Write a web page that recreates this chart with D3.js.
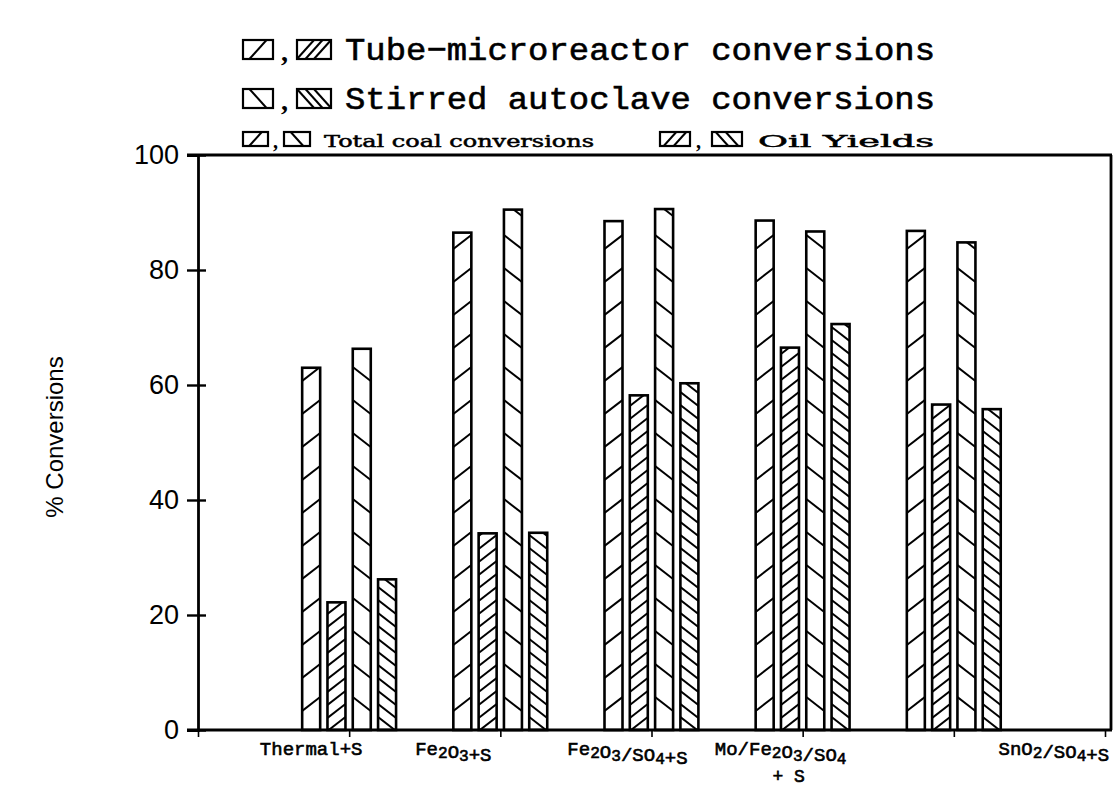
<!DOCTYPE html>
<html>
<head>
<meta charset="utf-8">
<script src="https://cdn.jsdelivr.net/npm/d3@7"></script>
<style>
  body { margin: 0; background: #fff; }
  svg { display: block; }
</style>
</head>
<body>
<svg id="chart" width="1118" height="790"></svg>
<script>
// data
var categories = ["Thermal+S", "Fe_2O_3+S", "Fe_2O_3/SO_4+S", "Mo/Fe_2O_3/SO_4\n+ S", "SnO_2/SO_4+S"];
var tubeTotal = [63.0, 86.5, 88.5, 88.6, 86.8];
var tubeOil   = [22.2, 34.2, 58.2, 66.5, 56.6];
var autoTotal = [66.3, 90.5, 90.6, 86.7, 84.8];
var autoOil   = [26.2, 34.3, 60.3, 70.6, 55.8];
var yTicks = [0, 20, 40, 60, 80, 100];

var series = [
  {values: tubeTotal, dir: 1, gap: 33},
  {values: tubeOil,   dir: 1, gap: 13},
  {values: autoTotal, dir: -1, gap: 33},
  {values: autoOil,   dir: -1, gap: 13}
];

var svg = d3.select("#chart");
var x = d3.scaleLinear().domain([0, 6]).range([198, 1105]);
var y = d3.scaleLinear().domain([0, 100]).range([730, 155]);
var barW = 18, barStep = 25.3, groupOff = -47;
var labelDx = [-38, -47, -24, -22, 100];
var mono = "Liberation Mono, Courier New, monospace";

var defs = svg.append("defs");

// frame
svg.append("line").attr("x1", 187).attr("x2", 1112).attr("y1", y(100)).attr("y2", y(100))
  .attr("stroke", "#000").attr("stroke-width", 2.8);
svg.append("line").attr("x1", 1111).attr("x2", 1111).attr("y1", y(100)).attr("y2", y(0))
  .attr("stroke", "#000").attr("stroke-width", 2.8);

// y axis
var gy = svg.append("g").attr("transform", "translate(198,0)")
  .call(d3.axisLeft(y).tickValues(yTicks).tickSize(11).tickPadding(8));
gy.select(".domain").attr("stroke-width", 2.8);
gy.selectAll(".tick line").attr("x1", 8).attr("stroke-width", 2.4);
gy.selectAll(".tick text").attr("font-family", "Liberation Sans, Arial, sans-serif")
  .attr("font-size", 27).attr("fill", "#000");

// x axis
var gx = svg.append("g").attr("transform", "translate(0," + y(0) + ")")
  .call(d3.axisBottom(x).tickValues([0, 1, 2, 3, 4, 5, 6]).tickSize(7).tickFormat(""));
gx.select(".domain").attr("d", "M187,0H1112").attr("stroke-width", 2.8);
gx.selectAll(".tick line").attr("stroke-width", 1.6);

// bars with hatching
series.forEach(function(s, j) {
  s.values.forEach(function(v, i) {
    var x0 = x(i + 1) + groupOff + j * barStep;
    var yt = y(v), yb = y(0);
    var id = "clip" + j + "_" + i;
    defs.append("clipPath").attr("id", id).append("rect")
      .attr("x", x0).attr("y", yt).attr("width", barW).attr("height", yb - yt);
    var g = svg.append("g").attr("clip-path", "url(#" + id + ")");
    var rise = 14;
    var lines = d3.range(yb + rise, yt - s.gap, -s.gap);
    g.selectAll("line").data(lines).enter().append("line")
      .attr("x1", x0).attr("x2", x0 + barW)
      .attr("y1", function(d) { return s.dir > 0 ? d : d - rise; })
      .attr("y2", function(d) { return s.dir > 0 ? d - rise : d; })
      .attr("stroke", "#000").attr("stroke-width", 2);
    svg.append("rect").attr("x", x0).attr("y", yt).attr("width", barW).attr("height", yb - yt)
      .attr("fill", "none").attr("stroke", "#000").attr("stroke-width", 2.6);
  });
});

// category labels with subscripts
function writeLabel(sel, str, fs) {
  str.split(/(_\d)/).forEach(function(part) {
    if (!part) return;
    if (part[0] === "_") {
      sel.append("tspan").attr("font-size", fs * 0.85).attr("dy", 3).text(part.slice(1));
      sel.append("tspan").attr("dy", -3).text("");
    } else {
      sel.append("tspan").text(part);
    }
  });
}
categories.forEach(function(c, i) {
  var lines = c.split("\n");
  var cx = x(i + 1) + labelDx[i];
  lines.forEach(function(ln, k) {
    var t = svg.append("text")
      .attr("x", k === 0 ? cx : cx + 8).attr("y", k === 0 ? 755 : 782)
      .attr("text-anchor", "middle")
      .attr("font-family", mono).attr("font-size", k === 0 ? 19 : 18)
      .attr("stroke", "#000").attr("stroke-width", 0.6).attr("fill", "#000");
    writeLabel(t, ln, 19);
  });
});

// y title
svg.append("text").attr("transform", "translate(63,437) rotate(-90)")
  .attr("text-anchor", "middle")
  .attr("font-family", "Liberation Sans, Arial, sans-serif").attr("font-size", 24)
  .text("% Conversions");

// legend
function swatch(x0, y0, w, h, n, dir) {
  svg.append("rect").attr("x", x0).attr("y", y0).attr("width", w).attr("height", h)
    .attr("fill", "none").attr("stroke", "#000").attr("stroke-width", 2.2);
  var step = w / (n + 1);
  for (var k = 0; k < n; k++) {
    var cx = x0 + step * (k + 1);
    var half = h * 0.45;
    svg.append("line")
      .attr("x1", cx - half * dir).attr("y1", y0 + h)
      .attr("x2", cx + half * dir).attr("y2", y0)
      .attr("stroke", "#000").attr("stroke-width", 2);
  }
}
function comma(cx, cy, fs) {
  svg.append("text").attr("x", cx).attr("y", cy).attr("font-family", "Liberation Serif, serif")
    .attr("font-size", fs).attr("font-weight", "bold").text(",");
}
swatch(243, 40, 30, 19, 1, 1);  comma(281, 61, 28);  swatch(297, 40, 34, 19, 3, 1);
swatch(243, 89, 30, 19, 1, -1); comma(281, 110, 28); swatch(297, 89, 34, 19, 3, -1);
svg.append("text").attr("x", 345).attr("y", 60).attr("textLength", 590).attr("lengthAdjust", "spacingAndGlyphs")
  .attr("font-family", mono).attr("font-size", 32)
  .attr("stroke", "#000").attr("stroke-width", 0.6).text("Tube\u2212microreactor conversions");
svg.append("text").attr("x", 345).attr("y", 109).attr("textLength", 590).attr("lengthAdjust", "spacingAndGlyphs")
  .attr("font-family", mono).attr("font-size", 32)
  .attr("stroke", "#000").attr("stroke-width", 0.6).text("Stirred autoclave conversions");

swatch(243, 132, 25, 14, 1, 1);  comma(273, 148, 20); swatch(284, 132, 26, 14, 1, -1);
swatch(660, 132, 30, 14, 2, 1);  comma(696, 148, 20); swatch(712, 132, 30, 14, 2, -1);
svg.append("text").attr("x", 324).attr("y", 147).attr("textLength", 270).attr("lengthAdjust", "spacingAndGlyphs")
  .attr("font-family", "DejaVu Serif, serif").attr("font-size", 17)
  .attr("stroke", "#000").attr("stroke-width", 0.5).text("Total coal conversions");
svg.append("text").attr("x", 758).attr("y", 147).attr("textLength", 176).attr("lengthAdjust", "spacingAndGlyphs")
  .attr("font-family", "DejaVu Serif, serif").attr("font-size", 17)
  .attr("stroke", "#000").attr("stroke-width", 0.5).text("Oil Yields");
</script>
</body>
</html>
